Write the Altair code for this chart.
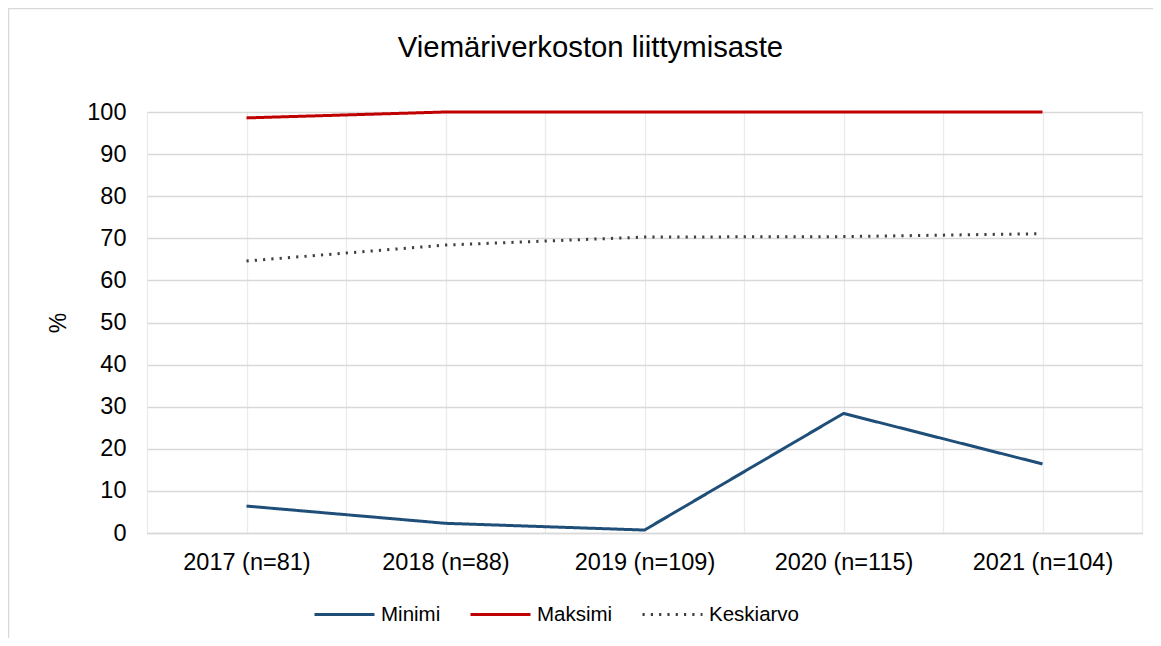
import json
import altair as alt
import pandas as pd

# ---- data ----
categories = ["2017 (n=81)", "2018 (n=88)", "2019 (n=109)", "2020 (n=115)", "2021 (n=104)"]
series_names = ["Minimi", "Maksimi", "Keskiarvo"]
minimi = [6.4, 2.3, 0.7, 28.4, 16.4]
maksimi = [98.6, 100, 100, 100, 100]
keskiarvo = [64.6, 68.4, 70.3, 70.4, 71.1]
y_ticks = [0, 10, 20, 30, 40, 50, 60, 70, 80, 90, 100]

rows = []
for name, vals in zip(series_names, [minimi, maksimi, keskiarvo]):
    for i, (cat, v) in enumerate(zip(categories, vals)):
        rows.append({"series": name, "category": cat, "idx": i, "value": v})
df = pd.DataFrame(rows)

FONT = "Liberation Sans"
W, H = 995, 421

x_grid_vals = [i / 2 - 0.5 for i in range(2 * len(categories) + 1)]
label_expr = "datum.value % 1 === 0 ? " + json.dumps(categories) + "[datum.value] : ''"

legend = alt.Legend(
    title=None, orient="none", legendX=166, legendY=471, direction="horizontal",
    symbolType="stroke", symbolSize=3600, symbolStrokeWidth=3,
    labelFontSize=20.5, labelFont=FONT, labelColor="#000000", labelOffset=5,
    columnPadding=23, padding=0,
)

lines = alt.Chart(df).mark_line(strokeWidth=3, strokeCap="butt", strokeJoin="round").encode(
    x=alt.X("idx:Q",
            scale=alt.Scale(domain=[-0.5, len(categories) - 0.5], nice=False, zero=False),
            axis=alt.Axis(values=x_grid_vals, grid=True, gridColor="#EBEBEB", gridWidth=1.3,
                          ticks=False, domain=True, domainColor="#D9D9D9", domainWidth=1.3,
                          labelExpr=label_expr, labelFontSize=23.5, labelFont=FONT,
                          labelColor="#000000", labelPadding=17, labelOverlap=False,
                          labelFlush=False, title=None)),
    y=alt.Y("value:Q",
            scale=alt.Scale(domain=[0, 100], nice=False),
            axis=alt.Axis(values=y_ticks, grid=True, gridColor="#D9D9D9", gridWidth=1.3,
                          domain=False, ticks=False, labelFontSize=23.5, labelFont=FONT,
                          labelColor="#000000", labelPadding=21, title="%",
                          titleFont=FONT, titleFontSize=23, titleFontWeight="normal",
                          titleColor="#000000", titlePadding=16)),
    color=alt.Color("series:N", scale=alt.Scale(domain=series_names,
                                                range=["#1F4E79", "#C00000", "#404040"]),
                    sort=series_names, legend=legend),
    strokeDash=alt.StrokeDash("series:N", scale=alt.Scale(domain=series_names,
                                                          range=[[1, 0], [1, 0], [2.2, 6.1]]),
                              sort=series_names, legend=legend),
    detail="series:N",
    order="idx:Q",
)

frame_df = pd.DataFrame({"a": [0]})
frame = alt.Chart(frame_df).mark_rect(fill=None, stroke="#D9D9D9", strokeWidth=1.5).encode(
    x=alt.value(-138.5), x2=alt.value(W + 200), y=alt.value(-103.5), y2=alt.value(H + 300)
)

chart = alt.layer(frame, lines).properties(
    width=W, height=H,
    title=alt.TitleParams("Viemäriverkoston liittymisaste", font=FONT, fontSize=29.3,
                          fontWeight="normal", color="#000000", anchor="middle",
                          baseline="alphabetic", dx=-54, offset=0, dy=79),
    autosize=alt.AutoSizeParams(type="none"),
    padding={"left": 139, "top": 104, "right": 11, "bottom": 105},
).configure_view(stroke=None).configure(background="white")

chart.save("out.html", embed_options={"renderer": "svg", "actions": False})
